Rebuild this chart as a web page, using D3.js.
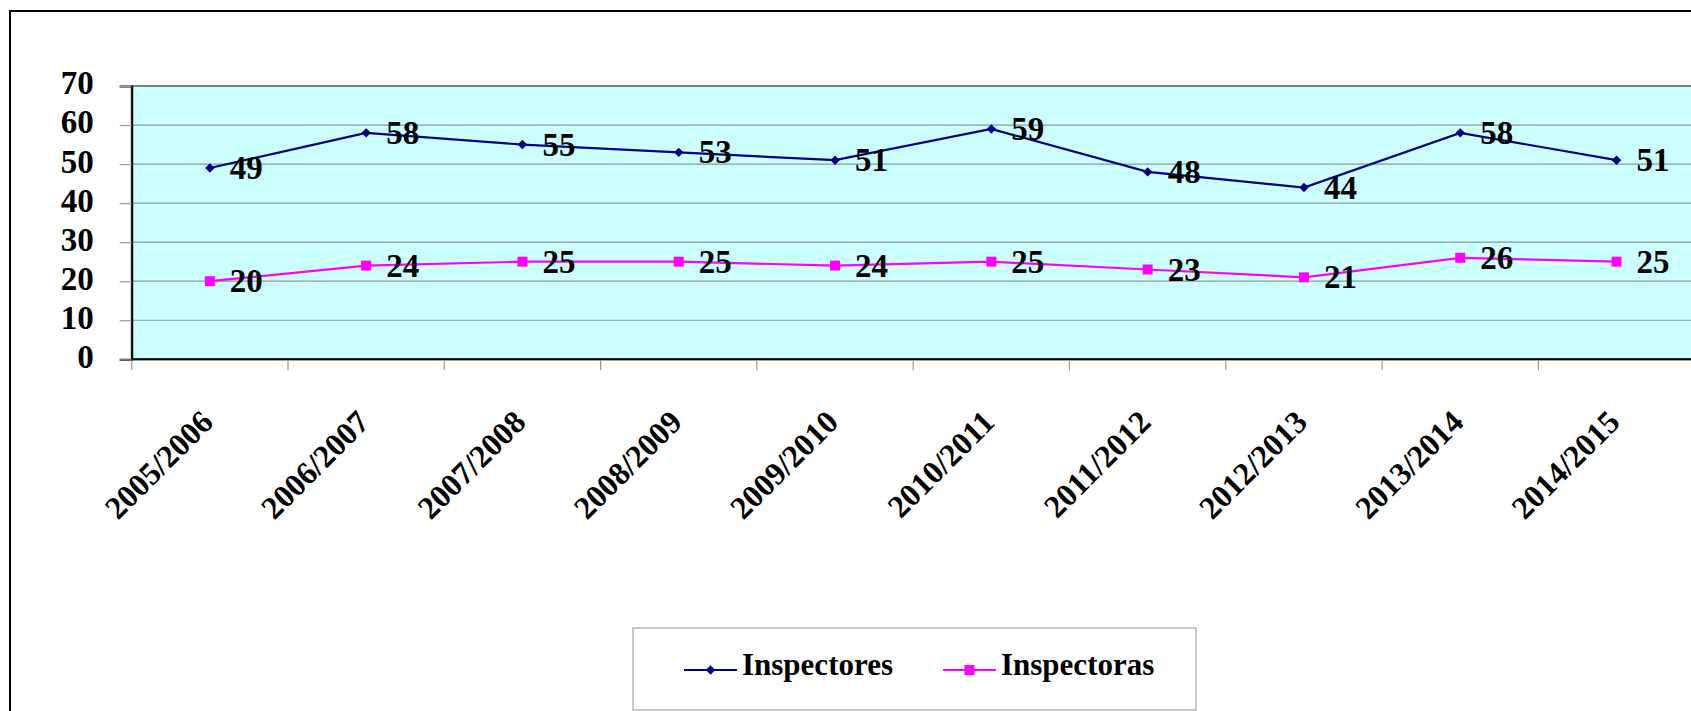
<!DOCTYPE html>
<html>
<head>
<meta charset="utf-8">
<script src="https://cdn.jsdelivr.net/npm/d3@7"></script>
<style>
  html, body { margin: 0; padding: 0; background: #fff; overflow: hidden; }
  svg { display: block; }
  text { font-family: "Liberation Serif", "Times New Roman", serif; font-weight: bold; fill: #000; }
</style>
</head>
<body>
<script>
const categories = ["2005/2006","2006/2007","2007/2008","2008/2009","2009/2010","2010/2011","2011/2012","2012/2013","2013/2014","2014/2015"];
const inspectores = [49, 58, 55, 53, 51, 59, 48, 44, 58, 51];
const inspectoras = [20, 24, 25, 25, 24, 25, 23, 21, 26, 25];
const yTicks = [0, 10, 20, 30, 40, 50, 60, 70];
const seriesNames = ["Inspectores", "Inspectoras"];

const W = 1691, H = 711;
const svg = d3.select("body").append("svg").attr("width", W).attr("height", H);

// outer chart border
svg.append("rect").attr("x", 10).attr("y", 11).attr("width", W + 20).attr("height", H + 20)
  .attr("fill", "#fff").attr("stroke", "#000").attr("stroke-width", 2);

const plot = {left: 131.7, right: 1694.7, top: 86, bottom: 359.3};
const x = d3.scaleBand().domain(categories).range([plot.left, plot.right]).padding(0);
const y = d3.scaleLinear().domain([0, 70]).range([plot.bottom, plot.top]);
const cx = d => x(d) + x.bandwidth() / 2;

// plot area
svg.append("rect").attr("x", plot.left).attr("y", plot.top)
  .attr("width", plot.right - plot.left).attr("height", plot.bottom - plot.top)
  .attr("fill", "#CCFFFF").attr("stroke", "#808080").attr("stroke-width", 2);

// gridlines
svg.append("g").selectAll("line").data(yTicks.filter(t => t > 0 && t < 70)).join("line")
  .attr("x1", plot.left).attr("x2", plot.right)
  .attr("y1", d => y(d)).attr("y2", d => y(d))
  .attr("stroke", "#8a9a9a").attr("stroke-width", 1.2);

// y axis
const yAxis = d3.axisLeft(y).tickValues(yTicks).tickSize(12).tickPadding(26).tickFormat(d3.format("d"));
const gy = svg.append("g").attr("transform", `translate(${plot.left},0)`).call(yAxis);
gy.select(".domain").attr("stroke", "#000").attr("stroke-width", 2);
gy.selectAll(".tick line").attr("stroke", "#999").attr("stroke-width", 1.2);
gy.selectAll(".tick text").attr("font-size", 33).attr("dy", "0.24em")
  .style("font-family", '"Liberation Serif", serif').style("font-weight", "bold").attr("fill", "#000");

// x axis line and ticks at band edges
svg.append("line").attr("x1", plot.left).attr("x2", plot.right)
  .attr("y1", plot.bottom).attr("y2", plot.bottom).attr("stroke", "#000").attr("stroke-width", 2);
svg.append("g").selectAll("line").data(categories).join("line")
  .attr("x1", d => x(d)).attr("x2", d => x(d))
  .attr("y1", plot.bottom + 1).attr("y2", plot.bottom + 11)
  .attr("stroke", "#999").attr("stroke-width", 1.2);

// x labels
svg.append("g").selectAll("text").data(categories).join("text")
  .attr("transform", d => `translate(${cx(d) + 5},424) rotate(-45)`)
  .attr("text-anchor", "end").attr("font-size", 32).text(d => d);

// series
const series = [
  {name: seriesNames[0], values: inspectores, color: "#000080", shape: "diamond"},
  {name: seriesNames[1], values: inspectoras, color: "#FF00FF", shape: "square"}
];
const line = d3.line().x((v, i) => cx(categories[i])).y(v => y(v));

function marker(g, shape, color, px, py) {
  if (shape === "diamond") {
    g.append("path").attr("d", `M${px},${py-4.7} L${px+4.7},${py} L${px},${py+4.7} L${px-4.7},${py} Z`).attr("fill", color);
  } else {
    g.append("rect").attr("x", px - 5).attr("y", py - 5).attr("width", 10).attr("height", 10).attr("fill", color);
  }
}

series.forEach(s => {
  const g = svg.append("g");
  g.append("path").attr("d", line(s.values)).attr("fill", "none")
    .attr("stroke", s.color).attr("stroke-width", 2.2);
  s.values.forEach((v, i) => marker(g, s.shape, s.color, cx(categories[i]), y(v)));
  g.selectAll("text").data(s.values).join("text")
    .attr("x", (v, i) => cx(categories[i]) + 20).attr("y", v => y(v) + 11)
    .attr("font-size", 33).text(v => v);
});

// legend
const lg = svg.append("g");
lg.append("rect").attr("x", 633).attr("y", 628).attr("width", 563).attr("height", 82)
  .attr("fill", "#fff").attr("stroke", "#a6a6a6").attr("stroke-width", 1.2);
const legendItems = [
  {s: series[0], x0: 684},
  {s: series[1], x0: 943}
];
legendItems.forEach(it => {
  lg.append("line").attr("x1", it.x0).attr("x2", it.x0 + 53).attr("y1", 670).attr("y2", 670)
    .attr("stroke", it.s.color).attr("stroke-width", 2.2);
  marker(lg, it.s.shape, it.s.color, it.x0 + 26.5, 670);
  lg.append("text").attr("x", it.x0 + 58).attr("y", 675).attr("font-size", 31).text(it.s.name);
});
</script>
</body>
</html>
